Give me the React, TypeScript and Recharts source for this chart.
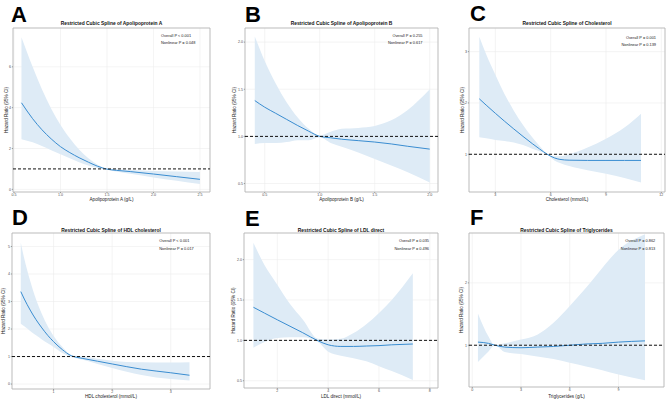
import React from "react"
import { ComposedChart, Area, Line, XAxis, YAxis, CartesianGrid, ReferenceLine, ReferenceArea } from "recharts"

// A: Apolipoprotein A
const apoAX = [0.58, 0.7, 0.8, 0.9, 1.0, 1.1, 1.2, 1.3, 1.4, 1.5, 1.6, 1.75, 2.0, 2.25, 2.5]
const apoAHr = [4.24, 3.46, 2.92, 2.47, 2.09, 1.8, 1.55, 1.33, 1.13, 0.99, 0.93, 0.87, 0.75, 0.62, 0.49]
const apoALo = [2.45, 2.3, 2.12, 1.92, 1.72, 1.52, 1.33, 1.17, 1.04, 0.96, 0.87, 0.76, 0.58, 0.42, 0.26]
const apoAHi = [7.45, 6.0, 4.9, 3.95, 3.15, 2.5, 1.95, 1.52, 1.2, 1.01, 0.98, 0.95, 0.9, 0.87, 0.85]

// B: Apolipoprotein B
const apoBX = [0.41, 0.5, 0.6, 0.7, 0.8, 0.9, 1.0, 1.1, 1.2, 1.35, 1.5, 1.65, 1.8, 2.0]
const apoBHr = [1.38, 1.31, 1.245, 1.18, 1.115, 1.055, 1.0, 0.985, 0.97, 0.955, 0.94, 0.92, 0.895, 0.865]
const apoBLo = [0.92, 0.93, 0.93, 0.94, 0.96, 0.96, 0.99, 0.93, 0.89, 0.83, 0.76, 0.69, 0.62, 0.51]
const apoBHi = [2.06, 1.8, 1.56, 1.36, 1.2, 1.08, 1.01, 1.05, 1.08, 1.09, 1.11, 1.17, 1.28, 1.5]

// C: Cholesterol
const cholX = [2.13, 2.5, 3, 3.5, 4, 4.5, 5, 5.4, 5.8, 6.2, 6.5, 7, 8, 9, 10, 10.9]
const cholHr = [2.08, 1.958, 1.798, 1.643, 1.493, 1.348, 1.208, 1.103, 1.003, 0.93, 0.9, 0.885, 0.88, 0.88, 0.88, 0.88]
const cholLo = [1.33, 1.31, 1.28, 1.26, 1.23, 1.18, 1.11, 1.06, 1.0, 0.88, 0.83, 0.77, 0.69, 0.62, 0.54, 0.45]
const cholHi = [3.29, 2.95, 2.55, 2.17, 1.85, 1.57, 1.33, 1.16, 1.01, 0.96, 0.96, 1.0, 1.13, 1.3, 1.52, 1.79]

// D: HDL cholesterol
const hdlX = [0.44, 0.5, 0.6, 0.7, 0.8, 0.9, 1.0, 1.15, 1.3, 1.4, 1.5, 1.75, 2.0, 2.5, 3.0, 3.32]
const hdlHr = [3.36, 3.09, 2.69, 2.34, 2.04, 1.77, 1.54, 1.25, 1.03, 0.97, 0.93, 0.83, 0.73, 0.54, 0.41, 0.32]
const hdlLo = [2.19, 2.1, 1.93, 1.77, 1.62, 1.48, 1.35, 1.13, 0.99, 0.93, 0.88, 0.73, 0.58, 0.33, 0.18, 0.13]
const hdlHi = [5.14, 4.55, 3.75, 3.08, 2.55, 2.1, 1.75, 1.35, 1.06, 1.02, 1.0, 0.92, 0.85, 0.79, 0.78, 0.79]

// E: LDL direct
const ldlX = [1.06, 1.5, 2, 2.5, 3, 3.6, 4, 4.5, 5, 5.5, 6, 6.5, 7.33]
const ldlHr = [1.41, 1.337, 1.255, 1.175, 1.095, 0.995, 0.945, 0.925, 0.925, 0.93, 0.935, 0.945, 0.955]
const ldlLo = [0.91, 0.98, 1.03, 1.04, 1.04, 0.98, 0.86, 0.81, 0.78, 0.74, 0.68, 0.62, 0.51]
const ldlHi = [2.21, 1.93, 1.69, 1.45, 1.26, 1.02, 1.01, 1.02, 1.09, 1.2, 1.34, 1.5, 1.83]

// F: Triglycerides
const tgX = [0.35, 1, 1.4, 2, 3, 4, 5, 6, 7, 8, 9, 10.63]
const tgHr = [1.05, 1.03, 1.0, 0.97, 0.96, 0.97, 0.98, 1.0, 1.02, 1.03, 1.05, 1.07]
const tgLo = [0.73, 0.9, 1.0, 0.89, 0.86, 0.82, 0.78, 0.72, 0.66, 0.6, 0.53, 0.44]
const tgHi = [1.51, 1.14, 1.0, 1.03, 1.09, 1.17, 1.36, 1.63, 1.92, 2.24, 2.53, 2.78]

const BLUE = "#3a8dd1"
const BAND = "#deebf6"
const FONT = "'Liberation Sans', Arial, sans-serif"

const panels = [
  {
    letter: "A", title: "Restricted Cubic Spline of Apolipoprotein A", xLabel: "Apolipoprotein A (g/L)",
    x: apoAX, hr: apoAHr, lo: apoALo, hi: apoAHi,
    xTicks: [0.5, 1.0, 1.5, 2.0, 2.5], xDec: 1, yTicks: [0, 2, 4, 6], yDec: 0,
    xDomain: [0.489, 2.608], yDomain: [-0.13, 7.9],
    rect: [13, 28, 210, 192], p: ["Overall P < 0.001", "Nonlinear P = 0.048"], pAnchor: "start", pX: 161, pY: 36.5,
    letterX: 11, letterY: 21.5, yLabelX: 6, titleY: 25, xLabelY: 200.5,
  },
  {
    letter: "B", title: "Restricted Cubic Spline of Apolipoprotein B", xLabel: "Apolipoprotein B (g/L)",
    x: apoBX, hr: apoBHr, lo: apoBLo, hi: apoBHi,
    xTicks: [0.5, 1.0, 1.5, 2.0], xDec: 1, yTicks: [0.5, 1.0, 1.5, 2.0], yDec: 1,
    xDomain: [0.321, 2.075], yDomain: [0.41, 2.15],
    rect: [245, 28, 438, 192], p: ["Overall P = 0.255", "Nonlinear P = 0.617"], pAnchor: "end", pX: 422.5, pY: 36.5,
    letterX: 245, letterY: 21.5, yLabelX: 234.7, titleY: 25, xLabelY: 200.5,
  },
  {
    letter: "C", title: "Restricted Cubic Spline of Cholesterol", xLabel: "Cholesterol (mmol/L)",
    x: cholX, hr: cholHr, lo: cholLo, hi: cholHi,
    xTicks: [3, 6, 9, 12], xDec: 0, yTicks: [1, 2, 3], yDec: 0,
    xDomain: [1.57, 12.2], yDomain: [0.265, 3.46],
    rect: [469, 28, 665, 192], p: ["Overall P = 0.001", "Nonlinear P = 0.139"], pAnchor: "end", pX: 656, pY: 38.8,
    letterX: 470, letterY: 20.5, yLabelX: 462, titleY: 25, xLabelY: 200.5,
  },
  {
    letter: "D", title: "Restricted Cubic Spline of HDL cholesterol", xLabel: "HDL cholesterol (mmol/L)",
    x: hdlX, hr: hdlHr, lo: hdlLo, hi: hdlHi,
    xTicks: [1, 2, 3], xDec: 0, yTicks: [0, 1, 2, 3, 4, 5], yDec: 0,
    xDomain: [0.29, 3.67], yDomain: [-0.18, 5.49],
    rect: [12, 233, 210, 389], p: ["Overall P < 0.001", "Nonlinear P = 0.017"], pAnchor: "start", pX: 159.3, pY: 242.2,
    letterX: 12, letterY: 225, yLabelX: 3.5, titleY: 231.5, xLabelY: 398,
  },
  {
    letter: "E", title: "Restricted Cubic Spline of LDL direct", xLabel: "LDL direct (mmol/L)",
    x: ldlX, hr: ldlHr, lo: ldlLo, hi: ldlHi,
    xTicks: [2, 4, 6, 8], xDec: 0, yTicks: [0.5, 1.0, 1.5, 2.0], yDec: 1,
    xDomain: [0.69, 8.32], yDomain: [0.41, 2.33],
    rect: [244, 233, 438, 388], p: ["Overall P = 0.035", "Nonlinear P = 0.496"], pAnchor: "end", pX: 429, pY: 242.2,
    letterX: 245, letterY: 226, yLabelX: 233, titleY: 231.5, xLabelY: 398,
  },
  {
    letter: "F", title: "Restricted Cubic Spline of Triglycerides", xLabel: "Triglycerides (g/L)",
    x: tgX, hr: tgHr, lo: tgLo, hi: tgHi,
    xTicks: [0, 3, 6, 9], xDec: 0, yTicks: [1, 2], yDec: 0,
    xDomain: [-0.2, 11.8], yDomain: [0.33, 2.8],
    rect: [469, 233, 664, 387], p: ["Overall P = 0.862", "Nonlinear P = 0.813"], pAnchor: "end", pX: 655.3, pY: 242.2,
    letterX: 470, letterY: 225, yLabelX: 461, titleY: 231.5, xLabelY: 398,
  },
]

type PanelCfg = (typeof panels)[0]

function SplinePanel({ p }: { p: PanelCfg }) {
  const [L, T, R, B] = p.rect
  const yW = 10
  const xH = 7
  const mt = 2
  const mr = 2
  const data = p.x.map((x, i) => ({ x, hr: p.hr[i], band: [p.lo[i], p.hi[i]] }))
  const tick = { fontSize: 3.6, fill: "#4d4d4d", fontFamily: FONT }

  return (
    <div style={{ position: "absolute", left: L - yW, top: T - mt }}>
      <ComposedChart
        width={R - L + yW + mr}
        height={B - T + mt + xH}
        data={data}
        margin={{ top: mt, right: mr, left: 0, bottom: 0 }}
      >
        <CartesianGrid stroke="#ececec" strokeWidth={0.6} />
        <XAxis
          type="number"
          dataKey="x"
          domain={p.xDomain}
          ticks={p.xTicks}
          interval={0}
          allowDataOverflow
          height={xH}
          tickSize={1.2}
          tickMargin={0.5}
          axisLine={false}
          tickLine={{ stroke: "#555", strokeWidth: 0.5 }}
          tick={tick}
          tickFormatter={(v) => Number(v).toFixed(p.xDec)}
        />
        <YAxis
          type="number"
          domain={p.yDomain}
          ticks={p.yTicks}
          interval={0}
          allowDataOverflow
          width={yW}
          tickSize={1.2}
          tickMargin={0.8}
          axisLine={false}
          tickLine={{ stroke: "#555", strokeWidth: 0.5 }}
          tick={tick}
          tickFormatter={(v) => Number(v).toFixed(p.yDec)}
        />
        <Area
          dataKey="band"
          type="monotone"
          stroke="none"
          fill={BAND}
          fillOpacity={1}
          isAnimationActive={false}
        />
        <Line
          dataKey="hr"
          type="monotone"
          stroke={BLUE}
          strokeWidth={1}
          dot={false}
          isAnimationActive={false}
        />
        <ReferenceLine y={1} stroke="#111" strokeWidth={1} strokeDasharray="3 2" />
        <ReferenceArea
          x1={p.xDomain[0]}
          x2={p.xDomain[1]}
          y1={p.yDomain[0]}
          y2={p.yDomain[1]}
          fill="none"
          stroke="#b3b3b3"
          strokeWidth={0.8}
          ifOverflow="visible"
        />
      </ComposedChart>
    </div>
  )
}

export default function App() {
  return (
    <div style={{ position: "absolute", left: 0, top: 0, width: 669, height: 401, background: "#fff", fontFamily: FONT }}>
      {panels.map((p) => (
        <SplinePanel key={p.letter} p={p} />
      ))}
      <svg width={669} height={401} style={{ position: "absolute", left: 0, top: 0, pointerEvents: "none" }}>
        {panels.map((p) => {
          const [L, T, R, B] = p.rect
          const cx = (L + R) / 2
          const cy = (T + B) / 2
          return (
            <g key={p.letter} fontFamily={FONT}>
              <text x={p.letterX} y={p.letterY} fontSize={22} fontWeight="bold" fill="#000">{p.letter}</text>
              <text x={cx} y={p.titleY} fontSize={4.9} fontWeight="bold" textAnchor="middle" fill="#111">{p.title}</text>
              <text x={cx} y={p.xLabelY} fontSize={4.6} textAnchor="middle" fill="#222">{p.xLabel}</text>
              <text
                x={p.yLabelX}
                y={cy}
                fontSize={4.6}
                textAnchor="middle"
                dominantBaseline="central"
                fill="#222"
                transform={`rotate(-90 ${p.yLabelX} ${cy})`}
              >
                Hazard Ratio (95% CI)
              </text>
              <text x={p.pX} y={p.pY} fontSize={3.9} textAnchor={p.pAnchor} fill="#222">{p.p[0]}</text>
              <text x={p.pX} y={p.pY + 7.6} fontSize={3.9} textAnchor={p.pAnchor} fill="#222">{p.p[1]}</text>
            </g>
          )
        })}
      </svg>
    </div>
  )
}
